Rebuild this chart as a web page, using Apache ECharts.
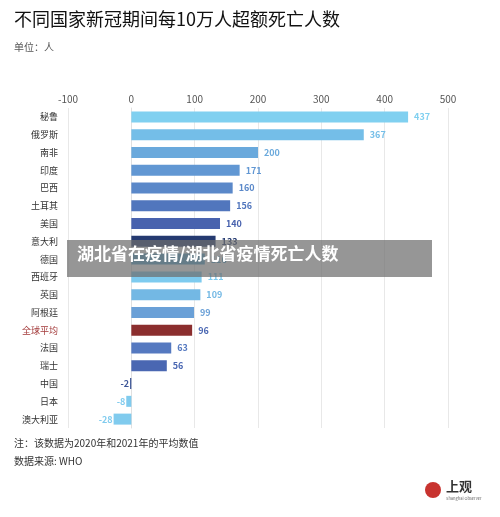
<!DOCTYPE html>
<html>
<head>
<meta charset="utf-8" />
<script src="https://cdn.jsdelivr.net/npm/echarts@6/dist/echarts.min.js"></script>
<style>html,body{margin:0;padding:0;background:#fff;}#main{width:500px;height:517px;}</style>
</head>
<body>
<div id="main"></div>
<script>
var countries = ['秘鲁', '俄罗斯', '南非', '印度', '巴西', '土耳其', '美国', '意大利', '德国', '西班牙', '英国', '阿根廷', '全球平均', '法国', '瑞士', '中国', '日本', '澳大利亚'];
var values = [437, 367, 200, 171, 160, 156, 140, 133, 116, 111, 109, 99, 96, 63, 56, -2, -8, -28];
var colors = ['#80d0f0', '#74bee8', '#6aa9dc', '#6197d3', '#5a88c9', '#5176bd', '#4862ae', '#253a70', '#4fa3cc', '#7ecbef', '#73b8e4', '#6aa0d7', '#8b2e2e', '#5579c0', '#4a67b2', '#3c5597', '#80cbee', '#80cbee'];
var ticks = [-100, 0, 100, 200, 300, 400, 500];

var chart = echarts.init(document.getElementById('main'));
var font = '"Noto Sans CJK SC", sans-serif';
chart.setOption({
  backgroundColor: '#fff',
  textStyle: { fontFamily: font },
  grid: { left: 68, right: 52, top: 108, bottom: 89 },
  xAxis: {
    type: 'value', position: 'top', min: ticks[0], max: ticks[ticks.length - 1], interval: 100,
    axisLine: { show: false }, axisTick: { show: false },
    splitLine: { lineStyle: { color: '#e8e8e8' } },
    axisLabel: { color: '#555', fontSize: 10, margin: 4 }
  },
  yAxis: {
    type: 'category', data: countries, inverse: true,
    axisLine: { show: true, lineStyle: { color: '#e0e0e0' } },
    axisTick: { show: false },
    axisLabel: {
      fontSize: 9, color: '#333', margin: 10,
      formatter: function (v) { return v === '全球平均' ? '{r|' + v + '}' : v; },
      rich: { r: { color: '#a33a3a', fontSize: 9 } }
    }
  },
  series: [{
    type: 'bar', barWidth: 11,
    data: values.map(function (v, i) {
      return {
        value: v, itemStyle: { color: colors[i] },
        label: { color: i === 12 ? '#4a67b2' : colors[i], position: v < 0 ? 'left' : 'right', distance: v < 0 ? 1 : 6 }
      };
    }),
    label: { show: true, fontSize: 9, fontWeight: 'bold',
      formatter: function (p) { return p.value; } }
  }],
  graphic: [
    { type: 'text', left: 14, top: 10, style: { text: '不同国家新冠期间每10万人超额死亡人数', fontSize: 18, fill: '#111', fontFamily: font } },
    { type: 'text', left: 14, top: 42, style: { text: '单位：人', fontSize: 10, fill: '#555', fontFamily: font } },
    { type: 'text', left: 14, top: 438, style: { text: '注：该数据为2020年和2021年的平均数值', fontSize: 10, fill: '#333', fontFamily: font } },
    { type: 'text', left: 14, top: 456, style: { text: '数据来源: WHO', fontSize: 10, fill: '#333', fontFamily: font } },
    { type: 'circle', shape: { cx: 433, cy: 490, r: 8 }, style: { fill: '#c8332f' } },
    { type: 'text', left: 446, top: 480, style: { text: '上观', fontSize: 13, fontWeight: 'bold', fill: '#333', fontFamily: font } },
    { type: 'text', left: 446, top: 496, style: { text: 'Shanghai Observer', fontSize: 4, fill: '#666', fontFamily: font } },
    { type: 'rect', shape: { x: 67, y: 240, width: 365, height: 37 }, style: { fill: 'rgba(110,110,110,0.72)' }, z: 100 },
    { type: 'text', left: 77, top: 245, z: 101, style: { text: '湖北省在疫情/湖北省疫情死亡人数', fontSize: 17, fontWeight: 'bold', fill: '#fff', fontFamily: font } }
  ]
});
</script>
</body>
</html>
